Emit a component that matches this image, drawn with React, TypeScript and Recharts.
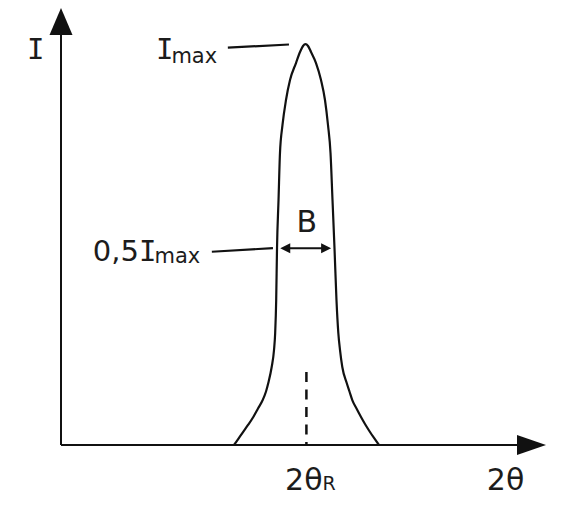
import { LineChart, Line, XAxis, YAxis, ReferenceLine, ReferenceDot } from 'recharts';

// diffraction peak profile (2θ in arbitrary units, I with Imax = 100)
const twoTheta = [
  35.67, 36.6, 37.53, 38.56, 39.65, 40.62, 41.59, 42.27, 42.74, 43.44, 43.92, 44.16, 44.37,
  44.54, 44.85, 45.15, 45.67, 46.39, 47.22, 48.45, 49.28, 49.9, 50.41,
  50.93, 51.55, 52.58, 53.61, 54.43, 55.05, 55.57, 55.98, 56.39, 56.8, 57.18, 57.53, 58.0,
  58.91, 59.48, 60.06, 60.93, 61.86, 62.68, 63.51, 64.54, 65.57,
];
const intensity = [
  0, 1.62, 3.24, 4.99, 6.99, 9.1, 11.22, 13.35, 15.46, 19.46, 23.69, 27.94, 36.17,
  49.14, 61.11, 72.84, 79.82, 86.06, 91.04, 95.28, 98.03, 99.53, 100,
  99.53, 98.03, 95.28, 91.04, 86.06, 79.82, 72.84, 61.11, 49.14, 36.17, 27.94, 23.69, 19.46,
  15.46, 13.35, 11.22, 9.1, 6.99, 5.24, 3.62, 1.75, 0,
];

const peakData = twoTheta.map((x, i) => ({ x, y: intensity[i] }));

const X_MAX = 100;
const Y_MAX = 109;
const PEAK_POS = 50.6; // 2θR
const I_MAX = 100;
const HALF_LEFT = 45.2;
const HALF_RIGHT = 55.7;
const HALF_I = 49.1;

const INK = '#111';
const FONT = '"DejaVu Sans", Verdana, sans-serif';
const SERIF_I = '"DejaVu Sans Mono", monospace'; // capital I with bars, like Verdana

// line with arrow head(s), used for axes and the B marker
const arrow = (len: number, half: number, both = false, width = 2) => (p: any) => {
  const { x1, y1, x2, y2 } = p;
  const dx = x2 - x1;
  const dy = y2 - y1;
  const d = Math.hypot(dx, dy) || 1;
  const ux = dx / d;
  const uy = dy / d;
  const head = (tx: number, ty: number, sx: number, sy: number) => {
    const bx = tx - sx * len;
    const by = ty - sy * len;
    return `${tx},${ty} ${bx - sy * half},${by + sx * half} ${bx + sy * half},${by - sx * half}`;
  };
  const sx = both ? x1 + ux * len * 0.8 : x1;
  const sy = both ? y1 + uy * len * 0.8 : y1;
  return (
    <g>
      <line x1={sx} y1={sy} x2={x2 - ux * len * 0.8} y2={y2 - uy * len * 0.8} stroke={INK} strokeWidth={width} />
      <polygon points={head(x2, y2, ux, uy)} fill={INK} />
      {both && <polygon points={head(x1, y1, -ux, -uy)} fill={INK} />}
    </g>
  );
};

const note = (content: any, anchor: 'start' | 'middle' | 'end' = 'start', size = 29) => (p: any) => (
  <text x={p.cx} y={p.cy} textAnchor={anchor} fontFamily={FONT} fontSize={size} fill="#1c1c1c">
    {content}
  </text>
);

const App = () => {
  return (
    <div style={{ position: 'absolute', left: 0, top: 0, background: '#fff' }}>
      <LineChart
        width={564}
        height={506}
        data={peakData}
        margin={{ top: 8, right: 18, bottom: 61, left: 61 }}
      >
        <XAxis type="number" dataKey="x" domain={[0, X_MAX]} allowDataOverflow hide />
        <YAxis type="number" domain={[0, Y_MAX]} allowDataOverflow hide />

        {/* axes with arrows */}
        <ReferenceLine segment={[{ x: 0, y: 0 }, { x: 0, y: Y_MAX }]} shape={arrow(27, 11.5)} />
        <ReferenceLine segment={[{ x: 0, y: 0 }, { x: X_MAX, y: 0 }]} shape={arrow(29, 10)} />

        <Line
          type="monotone"
          dataKey="y"
          stroke={INK}
          strokeWidth={2.2}
          dot={false}
          activeDot={false}
          isAnimationActive={false}
        />

        {/* 2θR marker, dashed from the top down */}
        <ReferenceLine
          segment={[{ x: PEAK_POS, y: 18.2 }, { x: PEAK_POS, y: 0 }]}
          stroke={INK}
          strokeWidth={2.5}
          strokeDasharray="10 7.5"
        />

        {/* leaders */}
        <ReferenceLine segment={[{ x: 34.4, y: I_MAX - 0.9 }, { x: 47.0, y: I_MAX - 0.1 }]} stroke={INK} strokeWidth={2.2} />
        <ReferenceLine segment={[{ x: 31.1, y: 48.2 }, { x: 43.7, y: HALF_I }]} stroke={INK} strokeWidth={2.2} />

        {/* B width arrow */}
        <ReferenceLine
          segment={[{ x: HALF_LEFT, y: HALF_I }, { x: HALF_RIGHT, y: HALF_I }]}
          shape={arrow(10, 5, true, 2)}
        />

        {/* labels */}
        <ReferenceDot
          x={-5.2}
          y={96.3}
          ifOverflow="visible"
          shape={note(<tspan fontFamily={SERIF_I}>I</tspan>, 'middle')}
        />
        <ReferenceDot
          x={32.2}
          y={96.3}
          ifOverflow="visible"
          shape={note(
            <>
              <tspan fontFamily={SERIF_I}>I</tspan>
              <tspan fontSize={21} dy={4} dx={-2}>max</tspan>
            </>,
            'end',
          )}
        />
        <ReferenceDot
          x={28.7}
          y={45.9}
          ifOverflow="visible"
          shape={note(
            <>
              0,5<tspan fontFamily={SERIF_I}>I</tspan>
              <tspan fontSize={21} dy={2} dx={-2}>max</tspan>
            </>,
            'end',
          )}
        />
        <ReferenceDot x={PEAK_POS + 0.1} y={53.1} ifOverflow="visible" shape={note('B', 'middle', 30)} />
        <ReferenceDot
          x={46.2}
          y={-11.2}
          ifOverflow="visible"
          shape={note(
            <>
              2θ<tspan fontSize={19}>R</tspan>
            </>,
            'start',
            30,
          )}
        />
        <ReferenceDot x={87.8} y={-11.2} ifOverflow="visible" shape={note('2θ', 'start', 30)} />
      </LineChart>
    </div>
  );
};

export default App;
